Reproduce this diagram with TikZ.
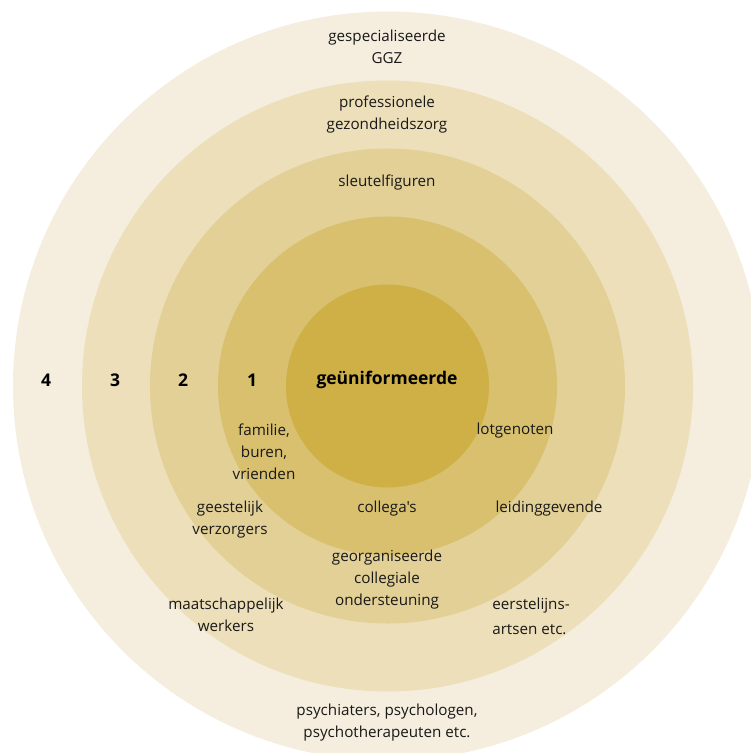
\documentclass[tikz,border=0pt]{standalone}
\usepackage{fontspec}
\setmainfont{Open Sans}
\newfontfamily\labelfont{Open Sans}
\definecolor{ringA}{RGB}{245,238,222}
\definecolor{ringB}{RGB}{237,223,185}
\definecolor{ringC}{RGB}{226,208,150}
\definecolor{ringD}{RGB}{216,192,110}
\definecolor{ringE}{RGB}{206,176,70}
\tikzset{
  lbl/.style={align=center, inner sep=0pt, font=\labelfont\fontsize{15.2}{22}\selectfont, text=black!90},
  num/.style={inner sep=0pt, font=\labelfont\fontsize{17.5}{19}\selectfont\bfseries},
}
\begin{document}
\begin{tikzpicture}[x=1pt,y=-1pt]
\useasboundingbox (0,0) rectangle (751,753);
\coordinate (c) at (387.5,386);
\begin{scope}
\clip (0,0) rectangle (751,753);
\fill[ringA] (c) circle[radius=374.5];
\fill[ringB] (c) circle[radius=305.5];
\fill[ringC] (c) circle[radius=237.5];
\fill[ringD] (c) circle[radius=169.5];
\fill[ringE] (c) circle[radius=101.5];
\end{scope}
\node[lbl] (ggz) at (387,46.5) {gespecialiseerde\\GGZ};
\node[lbl] (prof) at (387,114.5) {professionele\\gezondheidszorg};
\node[lbl] (sleutel) at (387,182.5) {sleutelfiguren};
\node[num] (n4) at (46,380) {4};
\node[num] (n3) at (115,380) {3};
\node[num] (n2) at (183,380) {2};
\node[num] (n1) at (252,380) {1};
\node[num] (core) at (387,380) {geüniformeerde};
\node[lbl] (fam) at (264,452) {familie,\\buren,\\vrienden};
\node[lbl] (lot) at (515,430.5) {lotgenoten};
\node[lbl] (gees) at (230,519.5) {geestelijk\\verzorgers};
\node[lbl] (coll) at (387,508.5) {collega's};
\node[lbl] (leid) at (549,508.5) {leidinggevende};
\node[lbl] (georg) at (387,579.5) {georganiseerde\\collegiale\\ondersteuning};
\node[lbl] (maat) at (226,614.5) {maatschappelijk\\werkers};
\node[lbl, align=left, font=\labelfont\fontsize{15.2}{25}\selectfont] (eerst) at (531,616.5) {eerstelijns-\\artsen etc.};
\node[lbl] (psych) at (387,722.5) {psychiaters, psychologen,\\psychotherapeuten etc.};
\end{tikzpicture}
\end{document}
